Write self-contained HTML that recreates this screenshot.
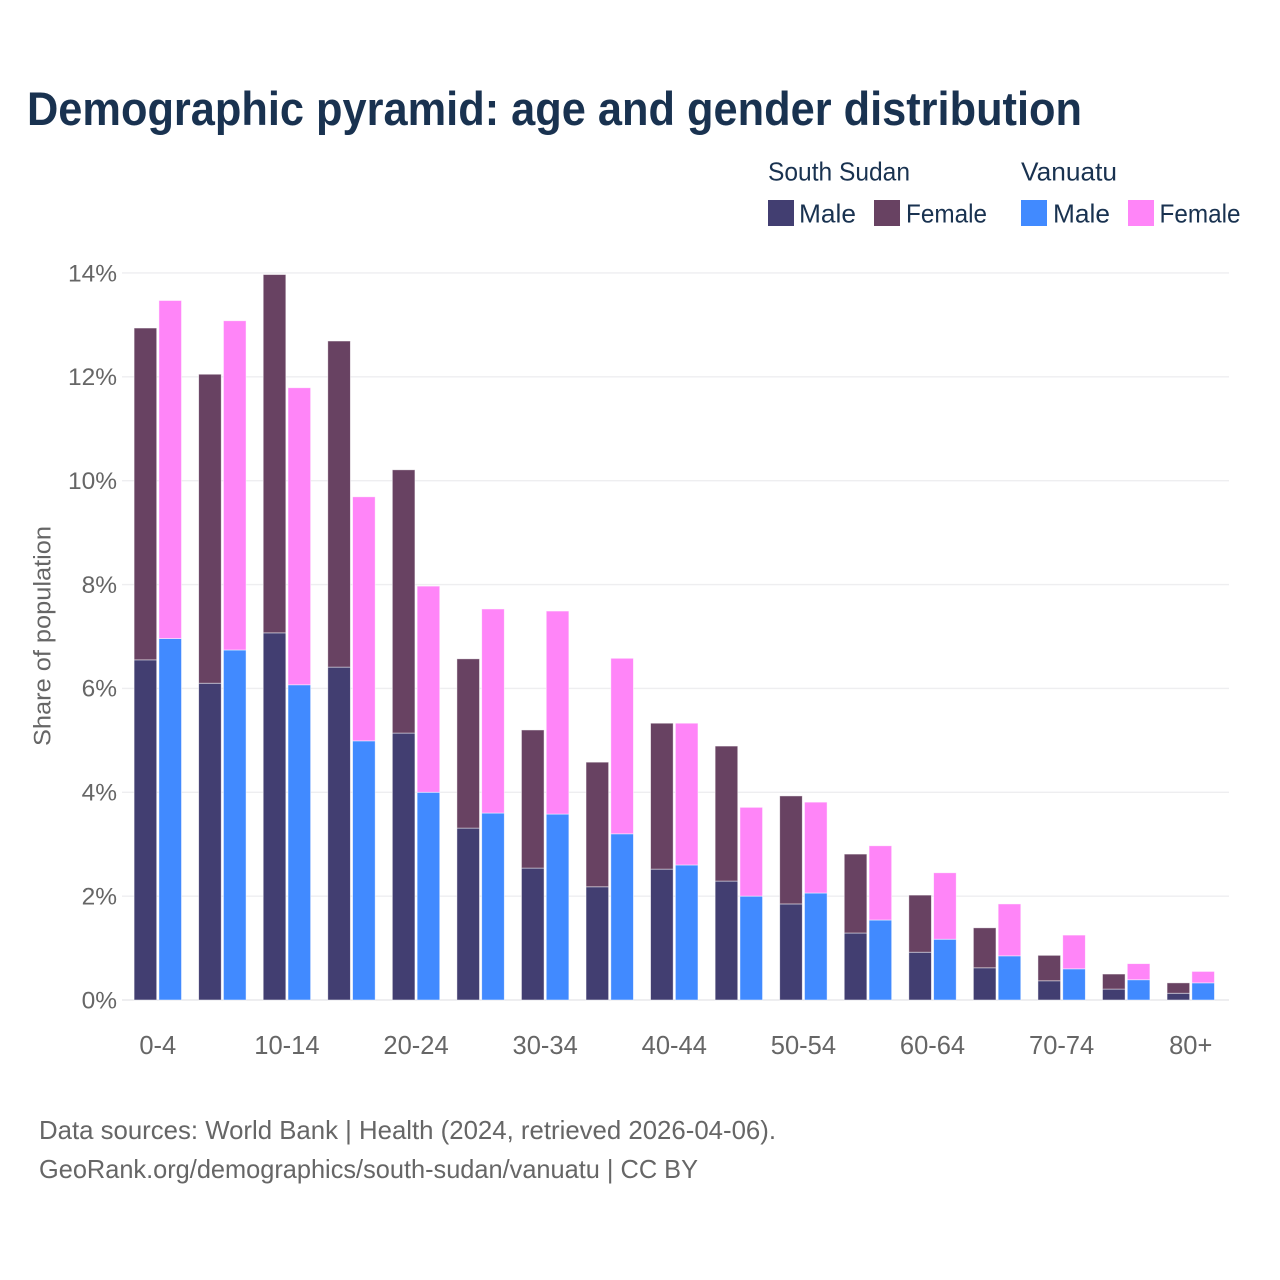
<!DOCTYPE html>
<html lang="en">
<head>
<meta charset="utf-8">
<title>Demographic pyramid: age and gender distribution</title>
<style>
html,body{margin:0;padding:0;background:#fff;}
svg{display:block;font-family:"Liberation Sans",sans-serif;}
</style>
</head>
<body>
<svg id="chart" xmlns="http://www.w3.org/2000/svg" width="1280" height="1280" viewBox="0 0 1280 1280">
  <rect x="0" y="0" width="1280" height="1280" fill="#ffffff"/>
  <text x="27" y="125" font-size="47" font-weight="700" fill="#193250" textLength="1055" lengthAdjust="spacingAndGlyphs">Demographic pyramid: age and gender distribution</text>

  <g font-size="26" fill="#193250">
    <text x="768" y="180.5" textLength="142" lengthAdjust="spacingAndGlyphs">South Sudan</text>
    <text x="1021" y="180.5" textLength="96" lengthAdjust="spacingAndGlyphs">Vanuatu</text>
    <rect x="768" y="200" width="26" height="26" fill="#423e71"/>
    <text x="799" y="222.5" textLength="57" lengthAdjust="spacingAndGlyphs">Male</text>
    <rect x="874" y="200" width="26" height="26" fill="#684262"/>
    <text x="906" y="222.5" textLength="81" lengthAdjust="spacingAndGlyphs">Female</text>
    <rect x="1021" y="200" width="26" height="26" fill="#418aff"/>
    <text x="1053" y="222.5" textLength="57" lengthAdjust="spacingAndGlyphs">Male</text>
    <rect x="1128" y="200" width="26" height="26" fill="#ff85f8"/>
    <text x="1159.5" y="222.5" textLength="81" lengthAdjust="spacingAndGlyphs">Female</text>
  </g>

  <g id="grid"></g>
  <g id="yticks"></g>
  <g id="bars"></g>
  <g id="xticks"></g>

  <text transform="translate(50.5,636) rotate(-90)" text-anchor="middle" font-size="24" fill="#666666" textLength="220" lengthAdjust="spacingAndGlyphs">Share of population</text>

  <text x="39" y="1139" font-size="26" fill="#666666" textLength="737" lengthAdjust="spacingAndGlyphs">Data sources: World Bank | Health (2024, retrieved 2026-04-06).</text>
  <text x="39" y="1178" font-size="26" fill="#666666" textLength="659" lengthAdjust="spacingAndGlyphs">GeoRank.org/demographics/south-sudan/vanuatu | CC BY</text>
</svg>
<script>
const ageGroups = ["0-4","5-9","10-14","15-19","20-24","25-29","30-34","35-39","40-44","45-49","50-54","55-59","60-64","65-69","70-74","75-79","80+"];
const xTickLabels = ["0-4","10-14","20-24","30-34","40-44","50-54","60-64","70-74","80+"];
const yTickValues = [0,2,4,6,8,10,12,14];
const southSudanMale = [6.55,6.10,7.07,6.41,5.14,3.31,2.54,2.18,2.52,2.29,1.85,1.29,0.92,0.62,0.37,0.21,0.13];
const southSudanFemale = [6.39,5.95,6.90,6.28,5.07,3.26,2.66,2.40,2.81,2.60,2.08,1.52,1.10,0.77,0.49,0.29,0.20];
const vanuatuMale = [6.96,6.74,6.07,4.99,4.00,3.60,3.58,3.20,2.60,2.00,2.06,1.54,1.17,0.85,0.60,0.39,0.33];
const vanuatuFemale = [6.51,6.34,5.72,4.70,3.97,3.93,3.91,3.38,2.73,1.71,1.75,1.43,1.28,1.00,0.65,0.31,0.22];

const SVG_NS = "http://www.w3.org/2000/svg";
const plotLeft = 122, plotRight = 1229;
const y0 = 1000, pxPerUnit = 51.93;
const firstCenter = 157.8, groupStep = 64.56;
const barWidth = 22.6, barGap = 2.2;

function yScale(v){ return y0 - v * pxPerUnit; }
function xCenter(i){ return firstCenter + i * groupStep; }

const gridG = document.getElementById("grid");
const yTicksG = document.getElementById("yticks");
yTickValues.forEach(function(v){
  const line = document.createElementNS(SVG_NS, "line");
  
  
  line.setAttribute("x1", plotLeft);
  line.setAttribute("x2", plotRight);
  line.setAttribute("y1", yScale(v));
  line.setAttribute("y2", yScale(v));
  line.setAttribute("stroke", "#eeeef0");
  line.setAttribute("stroke-width", v === 0 ? 2 : 1.4);
  gridG.appendChild(line);

  const t = document.createElementNS(SVG_NS, "text");
  
  
  t.setAttribute("x", 117);
  t.setAttribute("y", yScale(v) + 8.3);
  t.setAttribute("text-anchor", "end");
  t.setAttribute("font-size", "24.5");
  t.setAttribute("fill", "#666666");
  t.textContent = v + "%";
  yTicksG.appendChild(t);
});

const barsG = document.getElementById("bars");
function drawBar(x, base, value, color){
  const top = yScale(base + value);
  const bottom = yScale(base);
  const r = document.createElementNS(SVG_NS, "rect");
  
  
  r.setAttribute("x", x);
  r.setAttribute("y", top);
  r.setAttribute("width", barWidth);
  r.setAttribute("height", Math.max(0, bottom - top));
  r.setAttribute("fill", color);
  r.setAttribute("stroke", "#ffffff");
  r.setAttribute("stroke-opacity", "0.6");
  r.setAttribute("stroke-width", "0.8");
  barsG.appendChild(r);
}
ageGroups.forEach(function(group, i){
  const c = xCenter(i);
  const leftX = c - barGap / 2 - barWidth;
  const rightX = c + barGap / 2;
  drawBar(leftX, 0, southSudanMale[i], "#423e71");
  drawBar(leftX, southSudanMale[i], southSudanFemale[i], "#684262");
  drawBar(rightX, 0, vanuatuMale[i], "#418aff");
  drawBar(rightX, vanuatuMale[i], vanuatuFemale[i], "#ff85f8");
});

const xTicksG = document.getElementById("xticks");
xTickLabels.forEach(function(label){
  const t = document.createElementNS(SVG_NS, "text");
  
  
  t.setAttribute("x", xCenter(ageGroups.indexOf(label)));
  t.setAttribute("y", 1054);
  t.setAttribute("text-anchor", "middle");
  t.setAttribute("font-size", "25.5");
  t.setAttribute("fill", "#666666");
  t.textContent = label;
  xTicksG.appendChild(t);
});
</script>
</body>
</html>
